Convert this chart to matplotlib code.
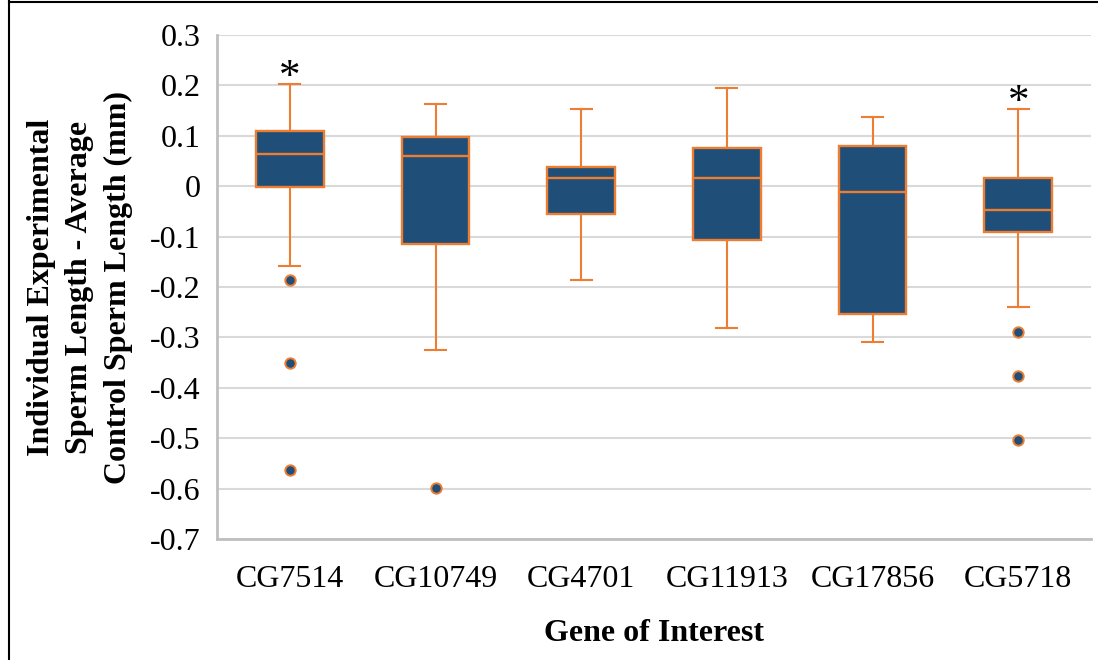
import matplotlib
matplotlib.use('Agg')
import matplotlib.pyplot as plt
from matplotlib.lines import Line2D
from matplotlib.ticker import MultipleLocator, FuncFormatter

plt.rcParams.update({
    'font.family': 'Liberation Serif',
    'font.size': 23,
    'axes.unicode_minus': False,
})

# Box statistics (mm)
GENES = ['CG7514', 'CG10749', 'CG4701', 'CG11913', 'CG17856', 'CG5718']
WHISK_LO = [-0.159, -0.325, -0.187, -0.282, -0.310, -0.239]
Q1 = [-0.002, -0.114, -0.055, -0.106, -0.253, -0.091]
MEDIAN = [0.063, 0.060, 0.016, 0.016, -0.012, -0.048]
Q3 = [0.110, 0.098, 0.039, 0.075, 0.079, 0.016]
WHISK_HI = [0.203, 0.163, 0.154, 0.194, 0.138, 0.154]
OUTLIERS = [[-0.187, -0.350, -0.563], [-0.599], [], [], [], [-0.290, -0.377, -0.504]]
SIGNIFICANT = [True, False, False, False, False, True]

BOX_FILL = '#1F4E79'
ORANGE = '#ED7D31'
GRID = '#D9D9D9'
AXIS = '#BFBFBF'

stats = []
for i, g in enumerate(GENES):
    stats.append({'label': g, 'whislo': WHISK_LO[i], 'q1': Q1[i], 'med': MEDIAN[i],
                  'q3': Q3[i], 'whishi': WHISK_HI[i], 'fliers': OUTLIERS[i]})

fig = plt.figure(figsize=(10.98, 6.60), dpi=100)
ax = fig.add_axes([217 / 1098, 1 - 539 / 660, (1091 - 217) / 1098, (539 - 35) / 660])

ax.set_axisbelow(True)
ax.grid(axis='y', color=GRID, linewidth=1.5)
ax.bxp(stats, positions=range(1, len(GENES) + 1), widths=0.465, capwidths=0.145,
       patch_artist=True,
       boxprops=dict(facecolor=BOX_FILL, edgecolor=ORANGE, linewidth=1.7),
       medianprops=dict(color=ORANGE, linewidth=1.7),
       whiskerprops=dict(color=ORANGE, linewidth=1.5),
       capprops=dict(color=ORANGE, linewidth=1.5),
       flierprops=dict(marker='o', markersize=7.5, markerfacecolor=BOX_FILL,
                       markeredgecolor=ORANGE, markeredgewidth=1.4))

# significance asterisks above the upper whisker
for i, sig in enumerate(SIGNIFICANT):
    if sig:
        ax.annotate('*', xy=(i + 1, WHISK_HI[i]), xytext=(0, -3),
                    textcoords='offset points', ha='center', va='baseline',
                    fontsize=31)

ax.set_xlim(0.5, len(GENES) + 0.5)
ax.set_ylim(-0.7, 0.3)
ax.yaxis.set_major_locator(MultipleLocator(0.1))
ax.yaxis.set_major_formatter(FuncFormatter(lambda v, p: f'{round(v, 1):g}' if abs(v) > 1e-9 else '0'))
ax.tick_params(axis='both', length=0)
ax.tick_params(axis='y', pad=12)
ax.tick_params(axis='x', pad=19)

for side in ('top', 'right'):
    ax.spines[side].set_visible(False)
for side in ('left', 'bottom'):
    ax.spines[side].set_color(AXIS)
    ax.spines[side].set_linewidth(2)

ax.set_xlabel('Gene of Interest', fontweight='bold', labelpad=18)
fig.text(80 / 1098, 1 - 287 / 660,
         'Individual Experimental\nSperm Length - Average\nControl Sperm Length (mm)',
         rotation=90, ha='center', va='center', fontweight='bold', linespacing=1.42)

# thin frame around the picture (left and top edges)
fig.add_artist(Line2D([9 / 1098, 9 / 1098], [0, 1], transform=fig.transFigure,
                      color='black', linewidth=1.5))
fig.add_artist(Line2D([9 / 1098, 1], [1 - 1.5 / 660, 1 - 1.5 / 660],
                      transform=fig.transFigure, color='black', linewidth=1.5))

fig.savefig('out.png', dpi=100)
